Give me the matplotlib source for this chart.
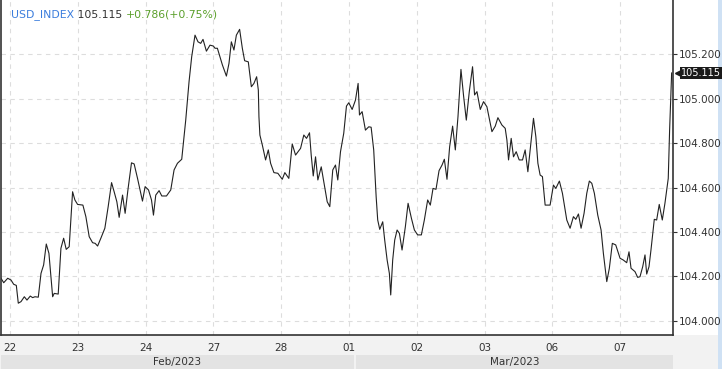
import matplotlib
matplotlib.use('Agg')
import matplotlib.pyplot as plt
from matplotlib.patches import Rectangle
from matplotlib.transforms import blended_transform_factory, offset_copy

symbol = 'USD_INDEX'
last_price = 105.115
change_text = '+0.786(+0.75%)'
day_labels = ['22', '23', '24', '27', '28', '01', '02', '03', '06', '07']
month_labels = ['Feb/2023', 'Mar/2023']
month_spans = [(-0.14, 5.08), (5.11, 9.78)]
price_ticks = [104.0, 104.2, 104.4, 104.6, 104.8, 105.0, 105.2]

# position in trading days (0 = 22 Feb) and index level
t_days = [
    -0.133, -0.093, -0.034, 0.015, 0.054, 0.093, 0.122, 0.162, 0.211, 0.250,
    0.299, 0.334, 0.368, 0.417, 0.457, 0.496, 0.535, 0.574, 0.629, 0.652,
    0.711, 0.751, 0.791, 0.829, 0.873, 0.923, 0.957, 0.997, 1.075, 1.119,
    1.168, 1.218, 1.256, 1.292, 1.340, 1.399, 1.448, 1.498, 1.536, 1.576,
    1.610, 1.660, 1.698, 1.742, 1.792, 1.831, 1.881, 1.954, 1.993, 2.043,
    2.087, 2.116, 2.150, 2.199, 2.239, 2.308, 2.371, 2.420, 2.470, 2.533,
    2.592, 2.641, 2.680, 2.729, 2.773, 2.813, 2.847, 2.897, 2.950, 3.000,
    3.024, 3.059, 3.133, 3.192, 3.230, 3.265, 3.303, 3.339, 3.387, 3.427,
    3.461, 3.515, 3.560, 3.598, 3.638, 3.663, 3.672, 3.686, 3.722, 3.770,
    3.810, 3.844, 3.893, 3.951, 4.016, 4.054, 4.113, 4.163, 4.212, 4.286,
    4.334, 4.374, 4.418, 4.443, 4.473, 4.507, 4.541, 4.591, 4.620, 4.679,
    4.717, 4.761, 4.801, 4.835, 4.875, 4.923, 4.963, 4.997, 5.047, 5.096,
    5.135, 5.155, 5.194, 5.243, 5.292, 5.327, 5.365, 5.401, 5.424, 5.454,
    5.498, 5.527, 5.563, 5.596, 5.616, 5.645, 5.675, 5.710, 5.744, 5.783,
    5.832, 5.872, 5.921, 5.965, 6.013, 6.068, 6.112, 6.161, 6.200, 6.240,
    6.284, 6.329, 6.373, 6.407, 6.446, 6.485, 6.529, 6.569, 6.608, 6.652,
    6.691, 6.731, 6.775, 6.823, 6.853, 6.888, 6.937, 6.985, 7.035, 7.069,
    7.109, 7.158, 7.197, 7.256, 7.305, 7.330, 7.354, 7.393, 7.427, 7.467,
    7.511, 7.560, 7.599, 7.639, 7.673, 7.722, 7.757, 7.787, 7.820, 7.854,
    7.894, 7.967, 8.016, 8.051, 8.104, 8.149, 8.213, 8.262, 8.311, 8.346,
    8.385, 8.424, 8.468, 8.508, 8.546, 8.582, 8.620, 8.670, 8.719, 8.753,
    8.803, 8.841, 8.885, 8.935, 8.999, 9.047, 9.097, 9.131, 9.161, 9.219,
    9.259, 9.293, 9.333, 9.367, 9.392, 9.426, 9.455, 9.504, 9.539, 9.577,
    9.622, 9.661, 9.710, 9.730, 9.760,
]
price = [
    104.192, 104.172, 104.192, 104.184, 104.165, 104.160, 104.080, 104.087, 104.109, 104.094,
    104.112, 104.105, 104.109, 104.107, 104.214, 104.252, 104.346, 104.304, 104.109, 104.124,
    104.121, 104.327, 104.372, 104.322, 104.334, 104.581, 104.544, 104.524, 104.521, 104.469,
    104.379, 104.352, 104.349, 104.337, 104.372, 104.417, 104.514, 104.622, 104.581, 104.536,
    104.466, 104.566, 104.484, 104.596, 104.711, 104.706, 104.641, 104.539, 104.604, 104.589,
    104.544, 104.476, 104.566, 104.586, 104.562, 104.562, 104.589, 104.679, 104.709, 104.727,
    104.903, 105.076, 105.188, 105.285, 105.255, 105.248, 105.266, 105.213, 105.240, 105.236,
    105.226, 105.226, 105.151, 105.101, 105.158, 105.255, 105.218, 105.285, 105.311, 105.226,
    105.170, 105.165, 105.053, 105.068, 105.098, 105.038, 104.918, 104.836, 104.791, 104.724,
    104.769, 104.709, 104.667, 104.664, 104.637, 104.667, 104.641, 104.796, 104.746, 104.776,
    104.836, 104.821, 104.846, 104.746, 104.652, 104.738, 104.634, 104.693, 104.641, 104.536,
    104.514, 104.679, 104.701, 104.634, 104.761, 104.844, 104.966, 104.981, 104.951, 104.993,
    105.068, 104.926, 104.941, 104.858, 104.873, 104.871, 104.769, 104.559, 104.454, 104.412,
    104.446, 104.364, 104.274, 104.214, 104.117, 104.274, 104.364, 104.409, 104.394, 104.319,
    104.424, 104.529, 104.462, 104.409, 104.387, 104.387, 104.454, 104.544, 104.521, 104.596,
    104.592, 104.676, 104.701, 104.727, 104.637, 104.783, 104.876, 104.769, 104.918, 105.131,
    105.011, 104.903, 105.031, 105.143, 105.016, 105.031, 104.951, 104.986, 104.963, 104.911,
    104.851, 104.876, 104.914, 104.881, 104.866, 104.813, 104.724, 104.821, 104.738, 104.761,
    104.724, 104.724, 104.769, 104.671, 104.769, 104.911, 104.828, 104.709, 104.656, 104.649,
    104.521, 104.521, 104.611, 104.596, 104.629, 104.574, 104.454, 104.417, 104.469, 104.457,
    104.481, 104.417, 104.484, 104.574, 104.629, 104.619, 104.574, 104.476, 104.409, 104.304,
    104.177, 104.237, 104.349, 104.342, 104.282, 104.274, 104.262, 104.311, 104.237, 104.222,
    104.196, 104.199, 104.244, 104.297, 104.211, 104.244, 104.319, 104.457, 104.454, 104.524,
    104.454, 104.529, 104.641, 104.858, 105.115,
]

W, H = 722, 369
fig = plt.figure(figsize=(W / 100, H / 100), dpi=100, facecolor='white')

# grey strip under the chart and blue edge on the right (behind everything)
fig.patches.append(Rectangle((0, 0), 1, 34 / H, transform=fig.transFigure,
                             facecolor='#f2f2f2', edgecolor='none', zorder=-5))
fig.patches.append(Rectangle((718 / W, 0), 4 / W, 1, transform=fig.transFigure,
                             facecolor='#cfe1f4', edgecolor='none', zorder=-5))

ax = fig.add_axes([1 / W, 34 / H, 672 / W, 335 / H])
ax.set_facecolor('white')
ax.plot(t_days, price, color='#222222', linewidth=0.8)

ax.set_xlim(-0.133, 9.78)
ax.set_ylim(103.937, 105.443)

ax.set_xticks(range(len(day_labels)))
ax.set_xticklabels(day_labels)
ax.set_yticks(price_ticks)
ax.set_yticklabels(['%.3f' % p for p in price_ticks])
ax.yaxis.tick_right()
ax.tick_params(axis='y', length=3, width=0.8, color='#333333',
               labelsize=7.5, labelcolor='#333333', pad=1.5)
ax.tick_params(axis='x', length=0, labelsize=7.5, labelcolor='#333333', pad=6)

ax.grid(True, color='#dddddd', linestyle=(0, (4, 4)), linewidth=0.8)
ax.set_axisbelow(True)
for side in ['left', 'bottom', 'right']:
    ax.spines[side].set_color('#333333')
    ax.spines[side].set_linewidth(1.2)
ax.spines['top'].set_visible(False)

# month bands along the bottom
band = blended_transform_factory(ax.transData, fig.transFigure)
for label, (x0, x1) in zip(month_labels, month_spans):
    ax.add_patch(Rectangle((x0, 0), x1 - x0, 14 / H, transform=band,
                           facecolor='#e3e3e3', edgecolor='none', clip_on=False))
    ax.text((x0 + x1) / 2, 7 / H, label, transform=band, ha='center', va='center',
            fontsize=7.5, color='#333333')

# header
t1 = fig.text(11 / W, 1 - 17 / H, symbol, color='#3b7ddd', fontsize=7.8, va='baseline')
t2 = ax.annotate(' %.3f ' % last_price, xy=(1, 0), xycoords=t1, va='bottom',
                 fontsize=7.8, color='#333333', annotation_clip=False)
ax.annotate(change_text, xy=(1, 0), xycoords=t2, va='bottom',
            fontsize=7.8, color='#5a9f2a', annotation_clip=False)

# last price tag
edge = blended_transform_factory(ax.transAxes, ax.transData)
ax.plot([1], [last_price], marker='<', markersize=5, color='#1a1a1a', clip_on=False,
        transform=offset_copy(edge, fig=fig, x=5, units='dots'))
ax.annotate('%.3f' % last_price, xy=(1, last_price), xycoords=edge,
            xytext=(8, 0), textcoords='offset pixels', ha='left', va='center',
            fontsize=7, color='white', annotation_clip=False,
            bbox=dict(boxstyle='square,pad=0.12', facecolor='#1a1a1a', edgecolor='none'))

fig.savefig('out.png', dpi=100, facecolor=fig.get_facecolor())
